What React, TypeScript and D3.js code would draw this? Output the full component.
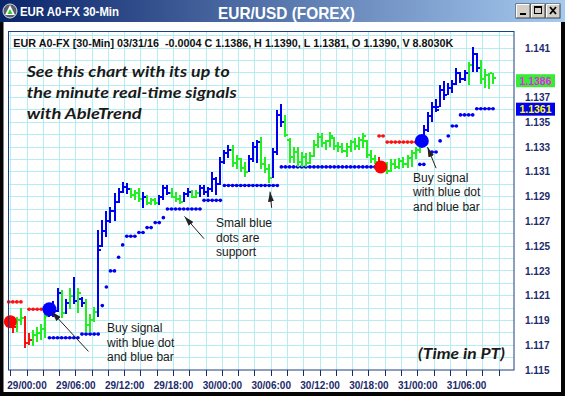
import { useRef, useEffect } from 'react'
import * as d3 from 'd3'

const W = 565
const H = 396

// EUR/USD 30-min bars, bar 0 = 28/22:00 PT (one value per bar)
const opens = [
  1.1192, 1.1185, 1.1190, 1.1192, 1.1172, 1.1174, 1.1178, 1.1180, 1.1183, 1.1194,
  1.1200, 1.1198, 1.1212, 1.1196, 1.1204, 1.1210, 1.1206, 1.1207, 1.1204, 1.1186,
  1.1190, 1.1197, 1.1250, 1.1262, 1.1270, 1.1278, 1.1286, 1.1294, 1.1298, 1.1296,
  1.1291, 1.1293, 1.1288, 1.1290, 1.1285, 1.1287, 1.1285, 1.1290, 1.1297, 1.1293,
  1.1290, 1.1288, 1.1286, 1.1292, 1.1294, 1.1290, 1.1293, 1.1297, 1.1294, 1.1296,
  1.1304, 1.1300, 1.1318, 1.1325, 1.1328, 1.1317, 1.1320, 1.1313, 1.1310, 1.1320,
  1.1330, 1.1334, 1.1316, 1.1312, 1.1305, 1.1326, 1.1356, 1.1350, 1.1336, 1.1322,
  1.1326, 1.1318, 1.1322, 1.1317, 1.1323, 1.1332, 1.1338, 1.1333, 1.1335, 1.1337,
  1.1331, 1.1330, 1.1327, 1.1330, 1.1334, 1.1331, 1.1336, 1.1335, 1.1324, 1.1320,
  1.1318, 1.1312, 1.1314, 1.1311, 1.1316, 1.1314, 1.1319, 1.1316, 1.1321, 1.1325,
  1.1328, 1.1334, 1.1344, 1.1355, 1.1362, 1.1362, 1.1376, 1.1372, 1.1378, 1.1381,
  1.1390, 1.1385, 1.1390, 1.1396, 1.1405, 1.1394, 1.1385, 1.1388, 1.1390,
]
const highs = [
  1.1193, 1.1193, 1.1200, 1.1194, 1.1180, 1.1182, 1.1185, 1.1187, 1.1197, 1.1203,
  1.1206, 1.1216, 1.1215, 1.1207, 1.1216, 1.1225, 1.1216, 1.1209, 1.1207, 1.1195,
  1.1201, 1.1263, 1.1271, 1.1278, 1.1282, 1.1293, 1.1297, 1.1302, 1.1301, 1.1297,
  1.1295, 1.1297, 1.1294, 1.1291, 1.1289, 1.1289, 1.1291, 1.1299, 1.1299, 1.1297,
  1.1294, 1.1291, 1.1294, 1.1297, 1.1295, 1.1295, 1.1299, 1.1299, 1.1298, 1.1310,
  1.1306, 1.1322, 1.1328, 1.1332, 1.1332, 1.1324, 1.1321, 1.1318, 1.1324, 1.1334,
  1.1336, 1.1338, 1.1322, 1.1316, 1.1329, 1.1360, 1.1365, 1.1356, 1.1337, 1.1330,
  1.1330, 1.1326, 1.1325, 1.1326, 1.1336, 1.1341, 1.1341, 1.1336, 1.1342, 1.1338,
  1.1334, 1.1333, 1.1333, 1.1336, 1.1337, 1.1338, 1.1341, 1.1336, 1.1328, 1.1324,
  1.1322, 1.1317, 1.1318, 1.1320, 1.1320, 1.1321, 1.1322, 1.1324, 1.1328, 1.1330,
  1.1336, 1.1348, 1.1358, 1.1366, 1.1369, 1.1380, 1.1383, 1.1382, 1.1384, 1.1394,
  1.1391, 1.1392, 1.1399, 1.1411, 1.1406, 1.1400, 1.1393, 1.1390, 1.1390,
]
const lows = [
  1.1180, 1.1181, 1.1186, 1.1168, 1.1170, 1.1169, 1.1173, 1.1174, 1.1176, 1.1193,
  1.1193, 1.1197, 1.1192, 1.1195, 1.1199, 1.1203, 1.1196, 1.1201, 1.1181, 1.1181,
  1.1189, 1.1193, 1.1249, 1.1257, 1.1269, 1.1270, 1.1285, 1.1293, 1.1292, 1.1289,
  1.1287, 1.1286, 1.1281, 1.1283, 1.1283, 1.1283, 1.1283, 1.1287, 1.1291, 1.1289,
  1.1286, 1.1284, 1.1286, 1.1290, 1.1289, 1.1289, 1.1290, 1.1291, 1.1290, 1.1294,
  1.1291, 1.1299, 1.1316, 1.1321, 1.1314, 1.1312, 1.1310, 1.1306, 1.1310, 1.1318,
  1.1317, 1.1312, 1.1309, 1.1301, 1.1305, 1.1324, 1.1346, 1.1338, 1.1317, 1.1317,
  1.1314, 1.1314, 1.1314, 1.1316, 1.1322, 1.1329, 1.1330, 1.1328, 1.1330, 1.1328,
  1.1326, 1.1325, 1.1322, 1.1326, 1.1328, 1.1328, 1.1329, 1.1321, 1.1317, 1.1316,
  1.1309, 1.1310, 1.1308, 1.1310, 1.1312, 1.1312, 1.1313, 1.1313, 1.1314, 1.1320,
  1.1325, 1.1330, 1.1342, 1.1350, 1.1358, 1.1362, 1.1368, 1.1372, 1.1374, 1.1380,
  1.1382, 1.1383, 1.1380, 1.1391, 1.1391, 1.1381, 1.1378, 1.1377, 1.1381,
]
const closes = [
  1.1185, 1.1190, 1.1192, 1.1172, 1.1174, 1.1178, 1.1180, 1.1183, 1.1194, 1.1200,
  1.1198, 1.1212, 1.1196, 1.1204, 1.1210, 1.1206, 1.1212, 1.1204, 1.1186, 1.1190,
  1.1197, 1.1247, 1.1262, 1.1270, 1.1278, 1.1286, 1.1294, 1.1298, 1.1296, 1.1291,
  1.1293, 1.1288, 1.1290, 1.1285, 1.1287, 1.1285, 1.1290, 1.1297, 1.1293, 1.1290,
  1.1288, 1.1286, 1.1292, 1.1294, 1.1290, 1.1293, 1.1297, 1.1294, 1.1296, 1.1304,
  1.1300, 1.1318, 1.1325, 1.1328, 1.1317, 1.1320, 1.1313, 1.1310, 1.1320, 1.1330,
  1.1334, 1.1316, 1.1312, 1.1305, 1.1326, 1.1356, 1.1350, 1.1340, 1.1322, 1.1326,
  1.1318, 1.1322, 1.1317, 1.1323, 1.1332, 1.1338, 1.1333, 1.1335, 1.1339, 1.1331,
  1.1330, 1.1327, 1.1330, 1.1334, 1.1331, 1.1336, 1.1339, 1.1324, 1.1320, 1.1318,
  1.1312, 1.1314, 1.1311, 1.1316, 1.1314, 1.1319, 1.1316, 1.1321, 1.1325, 1.1328,
  1.1334, 1.1344, 1.1355, 1.1362, 1.1360, 1.1376, 1.1372, 1.1378, 1.1381, 1.1390,
  1.1385, 1.1390, 1.1396, 1.1405, 1.1394, 1.1385, 1.1388, 1.1390, 1.1386,
]
// b = up trend (blue), g = neutral (green), r = down trend (red)
const trend = [
  'rggrrggggb', 'bbgbgbgbgg', 'gbbbbbbbbg', 'ggbgggbbbg', 'ggbbggbbbb',
  'bbbbggggbb', 'bgggbbbggg', 'gggggggggg', 'gggggggggg', 'rggggggggg',
  'gbbbbbbbbb', 'bbgbbgggg',
].join('')

// [first bar, last bar, price]
const supportLevels = [
  [9, 16, 1.1176], [17, 21, 1.1179], [22, 22, 1.1202], [23, 23, 1.1217],
  [24, 25, 1.123], [26, 26, 1.1241], [27, 27, 1.1251], [28, 30, 1.1258],
  [31, 32, 1.1261], [33, 34, 1.1265], [35, 36, 1.1269], [37, 37, 1.1273],
  [38, 46, 1.128], [47, 51, 1.1287], [52, 65, 1.1299], [66, 89, 1.1314],
  [100, 101, 1.1316], [103, 104, 1.1326], [105, 105, 1.1335], [107, 107, 1.1339],
  [108, 109, 1.1347], [110, 113, 1.1356], [114, 118, 1.1361],
]
const resistanceLevels = [
  [-1, 2, 1.1205], [4, 7, 1.1199], [90, 91, 1.1339], [92, 99, 1.1334],
]
const signalBars = [-0.6, 9, 90.4, 100.5]
const signalPrices = [1.1189, 1.1199, 1.1314, 1.1335]
const signalSides = ['sell', 'buy', 'sell', 'buy']

const tickHours = [0, 6, 12, 18, 24, 30, 36, 42, 48, 54]
const tickLabels = ['29/00:00', '29/06:00', '29/12:00', '29/18:00', '30/00:00',
  '30/06:00', '30/12:00', '30/18:00', '31/00:00', '31/06:00']
// 1.139 sits under the last-price box, so it is not listed
const priceLabels = ['1.115', '1.117', '1.119', '1.121', '1.123', '1.125', '1.127',
  '1.129', '1.131', '1.133', '1.135', '1.137', '1.141']

const COLORS = { b: '#0000f0', g: '#22ee22', r: '#ff1010' }
const NAVY = '#1c2b6b'

export default function App() {
  const svgRef = useRef(null)

  useEffect(() => {
    const svg = d3.select(svgRef.current)
    svg.selectAll('*').remove()

    const frame = { left: 8.5, top: 31.5, right: 514, bottom: 370 }
    const x = d3.scaleLinear().domain([-2.25, 59.85]).range([8.7, 514.2])
    const y = d3.scaleLinear().domain([1.115, 1.141]).range([370, 48])
    const barX = (i) => x(-1.75 + 0.5 * i)

    // window chrome
    svg.append('rect').attr('width', W).attr('height', H).attr('fill', '#050505')
    svg.append('rect').attr('x', 3.5).attr('y', 22).attr('width', 557.5).attr('height', 370).attr('fill', '#fff')
    const defs = svg.append('defs')
    const grad = defs.append('linearGradient').attr('id', 'titlebar')
    grad.append('stop').attr('offset', '0%').attr('stop-color', '#0a246a')
    grad.append('stop').attr('offset', '100%').attr('stop-color', '#a6caf0')
    defs.append('marker').attr('id', 'arrow').attr('viewBox', '0 0 10 6')
      .attr('refX', 10).attr('refY', 3).attr('markerWidth', 10).attr('markerHeight', 6)
      .attr('markerUnits', 'userSpaceOnUse').attr('orient', 'auto')
      .append('path').attr('d', 'M0,0 L10,3 L0,6 Z').attr('fill', '#222')

    svg.append('rect').attr('width', W).attr('height', 22).attr('fill', 'url(#titlebar)')
    svg.append('circle').attr('cx', 10).attr('cy', 11).attr('r', 7).attr('fill', '#55606a').attr('stroke', '#d8dde2')
    svg.append('path').attr('d', 'M10,5 L15,15 L5,15 Z').attr('fill', '#fff')
    svg.append('path').attr('d', 'M10,9 L12.5,14 L7.5,14 Z').attr('fill', '#3c3')
    svg.append('text').attr('x', 20).attr('y', 16).attr('fill', '#fff')
      .attr('font-family', 'Liberation Sans, Arial').attr('font-weight', 700).attr('font-size', 12)
      .attr('textLength', 99).attr('lengthAdjust', 'spacingAndGlyphs').text('EUR A0-FX 30-Min')
    svg.append('text').attr('x', 286.5).attr('y', 18.5).attr('fill', '#fff').attr('text-anchor', 'middle')
      .attr('font-family', 'Liberation Sans, Arial').attr('font-weight', 700).attr('font-size', 16.5)
      .attr('textLength', 137).attr('lengthAdjust', 'spacingAndGlyphs').text('EUR/USD (FOREX)')

    // window buttons
    const btn = svg.append('g')
    ;[516, 531, 546].forEach((bx, k) => {
      btn.append('rect').attr('x', bx).attr('y', 4).attr('width', 14).attr('height', 14)
        .attr('fill', '#d4d0c8').attr('stroke', '#404040').attr('stroke-width', 1)
      btn.append('path').attr('d', `M${bx + 0.5},${17.5} L${bx + 0.5},${4.5} L${bx + 13.5},${4.5}`)
        .attr('fill', 'none').attr('stroke', '#fff')
      if (k === 0) btn.append('rect').attr('x', bx + 4).attr('y', 13).attr('width', 6).attr('height', 2).attr('fill', '#000')
      if (k === 1) {
        btn.append('rect').attr('x', bx + 3.5).attr('y', 6.5).attr('width', 7).attr('height', 7)
          .attr('fill', 'none').attr('stroke', '#000')
        btn.append('rect').attr('x', bx + 3.5).attr('y', 6.5).attr('width', 7).attr('height', 1.5).attr('fill', '#000')
      }
      if (k === 2) {
        btn.append('path').attr('d', `M${bx + 4},7 L${bx + 10},14 M${bx + 10},7 L${bx + 4},14`)
          .attr('stroke', '#000').attr('stroke-width', 1.8)
      }
    })

    // grid
    const grid = svg.append('g').attr('stroke', '#b4eef2').attr('stroke-width', 1).attr('shape-rendering', 'crispEdges')
    grid.selectAll('.vg').data(d3.range(-2, 59, 2)).join('line')
      .attr('x1', d => x(d)).attr('x2', d => x(d)).attr('y1', frame.top).attr('y2', frame.bottom)
    grid.selectAll('.hg').data(d3.range(1116, 1143).map(v => v / 1000)).join('line')
      .attr('x1', frame.left).attr('x2', frame.right).attr('y1', d => y(d)).attr('y2', d => y(d))

    // support / resistance dots
    const drawLevels = (levels, color) => {
      const g = svg.append('g')
      levels.forEach(([a, b, p]) => {
        g.append('line').attr('x1', barX(a) - 1.5).attr('x2', barX(b) + 1.5)
          .attr('y1', y(p)).attr('y2', y(p)).attr('stroke', color).attr('stroke-width', 1.2)
        g.selectAll(null).data(d3.range(a, b + 1)).join('circle')
          .attr('cx', d => barX(d)).attr('cy', y(p)).attr('r', 1.8).attr('fill', color)
      })
    }
    drawLevels(supportLevels, COLORS.b)
    drawLevels(resistanceLevels, COLORS.r)

    // OHLC bars
    const bars = opens.map((o, i) => ({ i, o, h: highs[i], l: lows[i], c: closes[i], t: trend[i] }))
    const gb = svg.append('g').attr('shape-rendering', 'crispEdges')
    gb.selectAll('.hl').data(bars).join('rect')
      .attr('x', d => barX(d.i) - 1).attr('y', d => y(d.h))
      .attr('width', 2).attr('height', d => Math.max(2, y(d.l) - y(d.h)))
      .attr('fill', d => COLORS[d.t])
    gb.selectAll('.op').data(bars).join('rect')
      .attr('x', d => barX(d.i) - 3).attr('y', d => y(d.o) - 1)
      .attr('width', 2).attr('height', 2).attr('fill', d => COLORS[d.t])
    gb.selectAll('.cl').data(bars).join('rect')
      .attr('x', d => barX(d.i) + 1).attr('y', d => y(d.c) - 1)
      .attr('width', 2).attr('height', 2).attr('fill', d => COLORS[d.t])

    // buy / sell signal dots
    svg.append('g').selectAll('circle').data(signalBars).join('circle')
      .attr('cx', d => barX(d)).attr('cy', (_, k) => y(signalPrices[k]))
      .attr('r', (_, k) => (signalSides[k] === 'buy' ? 7 : 6.5))
      .attr('fill', (_, k) => (signalSides[k] === 'buy' ? '#0000ff' : '#ff0000'))

    // frame
    svg.append('rect').attr('x', frame.left).attr('y', frame.top)
      .attr('width', frame.right - frame.left).attr('height', frame.bottom - frame.top)
      .attr('fill', 'none').attr('stroke', '#1f3f7f').attr('stroke-width', 1)

    // x axis
    svg.append('g').selectAll('line').data(d3.range(-2, 59, 2)).join('line')
      .attr('x1', d => x(d)).attr('x2', d => x(d)).attr('y1', frame.bottom).attr('y2', frame.bottom + 6)
      .attr('stroke', NAVY).attr('shape-rendering', 'crispEdges')
    svg.append('g').selectAll('text').data(tickHours).join('text')
      .attr('x', d => x(d)).attr('y', 388.5).attr('text-anchor', 'middle')
      .attr('font-family', 'Liberation Sans, Arial').attr('font-weight', 700).attr('font-size', 10)
      .attr('fill', NAVY).text((_, k) => tickLabels[k])

    // y axis labels
    svg.append('g').selectAll('text').data(priceLabels).join('text')
      .attr('x', 525).attr('y', d => y(+d) + 3.6)
      .attr('font-family', 'Liberation Sans, Arial').attr('font-weight', 700).attr('font-size', 10)
      .attr('fill', NAVY).text(d => d)

    // last price / support boxes
    const boxes = [
      { p: closes[closes.length - 1], dy: 3, fill: '#33ee33', color: '#ee22ee' },
      { p: supportLevels[supportLevels.length - 1][2], dy: 0.5, fill: '#0000f0', color: '#ffff00' },
    ]
    boxes.forEach(b => {
      const cy = y(b.p) + b.dy
      svg.append('rect').attr('x', 516).attr('y', cy - 6.5).attr('width', 39).attr('height', 13).attr('fill', b.fill)
      svg.append('text').attr('x', 535.5).attr('y', cy + 3.8).attr('text-anchor', 'middle')
        .attr('font-family', 'Liberation Sans, Arial').attr('font-weight', 700).attr('font-size', 10.5)
        .attr('fill', b.color).text(b.p.toFixed(4))
    })

    // header line
    svg.append('text').attr('x', 13.3).attr('y', 47.3).attr('fill', '#111')
      .attr('font-family', 'Liberation Sans, Arial').attr('font-weight', 700).attr('font-size', 10.5)
      .attr('textLength', 440).attr('lengthAdjust', 'spacingAndGlyphs').style('white-space', 'pre')
      .text('EUR A0-FX [30-Min] 03/31/16  -0.0004 C 1.1386, H 1.1390, L 1.1381, O 1.1390, V 8.8030K')

    // promo text
    const promo = [['See this chart with its up to', 77.3, 203], ['the minute real-time signals', 98.3, 210], ['with AbleTrend', 119.3, 115]]
    promo.forEach(([t, by, len]) => {
      svg.append('text').attr('x', 26.7).attr('y', by).attr('fill', '#1a1a1a')
        .attr('font-family', 'Lato, Open Sans, sans-serif').attr('font-style', 'italic').attr('font-weight', 700)
        .attr('font-size', 16).attr('textLength', len).attr('lengthAdjust', 'spacingAndGlyphs').text(t)
    })
    svg.append('text').attr('x', 418).attr('y', 359).attr('fill', '#1a1a1a')
      .attr('font-family', 'Lato, Open Sans, sans-serif').attr('font-style', 'italic').attr('font-weight', 700)
      .attr('font-size', 16).attr('textLength', 87).attr('lengthAdjust', 'spacingAndGlyphs').text('(Time in PT)')

    // annotations
    const notes = [
      { x: 107, y: 332, lines: ['Buy signal', 'with blue dot', 'and blue bar'] },
      { x: 216, y: 227, lines: ['Small blue', 'dots are', 'support'] },
      { x: 413, y: 181.5, lines: ['Buy signal', 'with blue dot', 'and blue bar'] },
    ]
    notes.forEach(n => {
      n.lines.forEach((l, k) => {
        svg.append('text').attr('x', n.x).attr('y', n.y + k * 14.5).attr('fill', '#1a1a1a')
          .attr('font-family', 'Liberation Sans, Arial').attr('font-size', 12).text(l)
      })
    })
    // arrows: [tail bar, tail price, tip bar, tip price]
    const arrows = [
      [18.6, 1.1165, 9.6, 1.1197], [47.0, 1.1256, 42.2, 1.1274],
      [63.6, 1.1281, 63.2, 1.1294], [104.0, 1.1313, 101.9, 1.1330],
    ]
    svg.append('g').selectAll('line').data(arrows).join('line')
      .attr('x1', d => barX(d[0])).attr('y1', d => y(d[1]))
      .attr('x2', d => barX(d[2])).attr('y2', d => y(d[3]))
      .attr('stroke', '#222').attr('stroke-width', 1).attr('marker-end', 'url(#arrow)')
  }, [])

  return (
    <>
      <style>{'body{margin:0}'}</style>
      <svg ref={svgRef} width={W} height={H} style={{ display: 'block' }} role="img"
        aria-label="EUR/USD 30-minute AbleTrend bar chart with buy signals and support dots" />
    </>
  )
}
